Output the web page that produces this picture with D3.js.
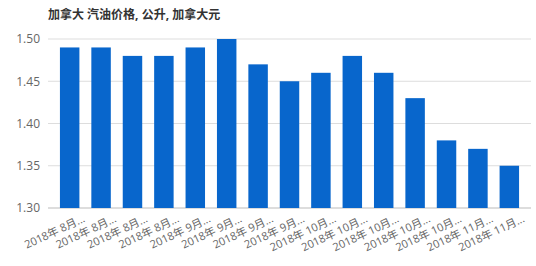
<!DOCTYPE html>
<html>
<head>
<meta charset="utf-8">
<script src="https://cdn.jsdelivr.net/npm/d3@7"></script>
<style>
  body { margin: 0; background: #fff; }
  text { font-family: "Open Sans", "Noto Sans CJK SC", sans-serif; }
</style>
</head>
<body>
<svg id="chart" width="536" height="266"></svg>
<script>
var categories = ["2018年 8月...", "2018年 8月...", "2018年 8月...", "2018年 8月...",
  "2018年 9月...", "2018年 9月...", "2018年 9月...", "2018年 9月...",
  "2018年 10月...", "2018年 10月...", "2018年 10月...", "2018年 10月...",
  "2018年 10月...", "2018年 11月...", "2018年 11月..."];
var prices = [1.49, 1.49, 1.48, 1.48, 1.49, 1.50, 1.47, 1.45, 1.46, 1.48, 1.46, 1.43, 1.38, 1.37, 1.35];
var yTicks = [1.30, 1.35, 1.40, 1.45, 1.50];

var svg = d3.select("#chart");
var margin = {top: 39, right: 5, bottom: 58, left: 48},
    width = 536 - margin.left - margin.right,
    height = 266 - margin.top - margin.bottom;

svg.append("text")
    .attr("x", 48).attr("y", 19)
    .attr("font-size", 12).attr("font-weight", "bold")
    .attr("fill", "#333")
    .text("加拿大 汽油价格, 公升, 加拿大元");

var g = svg.append("g")
    .attr("transform", "translate(" + margin.left + "," + margin.top + ")");

var x = d3.scaleBand()
    .domain(d3.range(categories.length))
    .range([0, width])
    .padding(0.38);

var y = d3.scaleLinear()
    .domain([1.30, 1.50])
    .range([height, 0]);

// grid
g.append("g")
    .selectAll("line")
    .data(yTicks)
    .enter().append("line")
    .attr("x1", 0).attr("x2", width)
    .attr("y1", function (d) { return y(d); })
    .attr("y2", function (d) { return y(d); })
    .attr("stroke", function (d) { return d === 1.30 ? "#bbb" : "#ddd"; })
    .attr("stroke-width", 1);

var yAxis = g.append("g")
    .call(d3.axisLeft(y).tickValues(yTicks).tickFormat(d3.format(".2f")).tickSize(0).tickPadding(8));
yAxis.select(".domain").remove();
yAxis.selectAll("text").attr("font-size", 12).attr("fill", "#666")
    .style("font-family", "'Open Sans', sans-serif");

g.append("g")
    .selectAll("rect")
    .data(prices)
    .enter().append("rect")
    .attr("x", function (d, i) { return x(i); })
    .attr("y", function (d) { return y(d); })
    .attr("width", x.bandwidth())
    .attr("height", function (d) { return height - y(d); })
    .attr("fill", "#0866cc");

var xAxis = g.append("g")
    .attr("transform", "translate(0," + height + ")")
    .call(d3.axisBottom(x).tickFormat(function (i) { return categories[i]; }).tickSize(0).tickPadding(9));
xAxis.select(".domain").remove();
xAxis.selectAll("text")
    .attr("font-size", 11).attr("fill", "#666")
    .attr("text-anchor", "end")
    .attr("dx", "0.8em")
    .attr("dy", "0.9em")
    .attr("transform", "rotate(-25)");
</script>
</body>
</html>
